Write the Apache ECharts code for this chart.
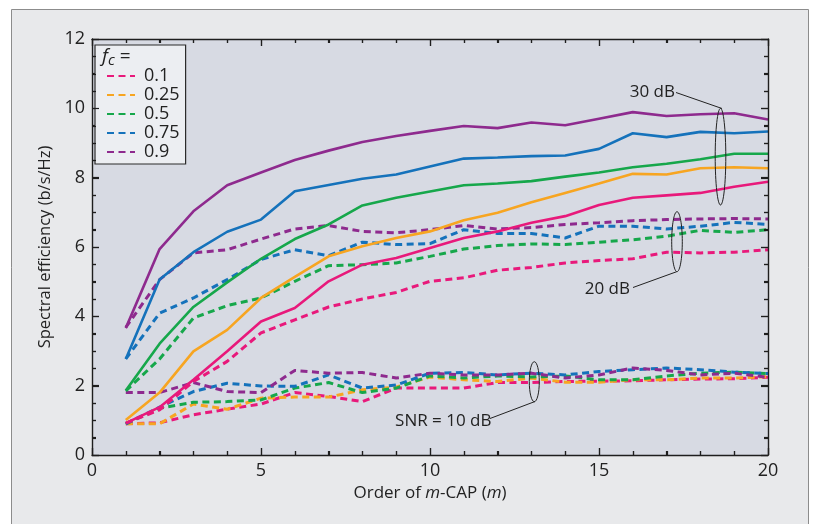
<!DOCTYPE html>
<html>
<head>
<meta charset="utf-8">
<script src="https://cdn.jsdelivr.net/npm/echarts@6/dist/echarts.min.js"></script>
<style>
html,body{margin:0;padding:0;background:#fff;}
#main{width:817px;height:524px;}
</style>
</head>
<body>
<div id="main"></div>
<script>
// ---- data ----
const orders = [1,2,3,4,5,6,7,8,9,10,11,12,13,14,15,16,17,18,19,20];
const fcLabels = ['0.1','0.25','0.5','0.75','0.9'];

// axis tick positions
const xTickVals  = [0,1,2,3,4,5,6,7,8,9,10,11,12,13,14,15,16,17,18,19,20];
const xMajorVals = [0,5,10,15,20];
const yTickVals  = [0,0.5,1,1.5,2,2.5,3,3.5,4,4.5,5,5.5,6,6.5,7,7.5,8,8.5,9,9.5,10,10.5,11,11.5,12];
const yMajorVals = [0,2,4,6,8,10,12];

// SNR = 30 dB (solid)
const snr30_01  = [0.92,1.38,2.17,2.99,3.85,4.24,5.01,5.49,5.68,5.97,6.26,6.45,6.70,6.89,7.21,7.42,7.49,7.56,7.74,7.88];
const snr30_025 = [1.01,1.80,2.99,3.61,4.53,5.14,5.73,6.02,6.26,6.45,6.77,6.99,7.29,7.56,7.83,8.11,8.09,8.27,8.30,8.27];
const snr30_05  = [1.86,3.21,4.27,4.98,5.66,6.23,6.65,7.20,7.42,7.60,7.78,7.83,7.90,8.03,8.15,8.30,8.40,8.53,8.69,8.69];
const snr30_075 = [2.77,5.06,5.85,6.44,6.79,7.61,7.79,7.97,8.09,8.32,8.55,8.58,8.62,8.64,8.83,9.28,9.17,9.32,9.28,9.33];
const snr30_09  = [3.66,5.94,7.03,7.78,8.15,8.51,8.78,9.03,9.20,9.35,9.49,9.43,9.59,9.51,9.70,9.89,9.78,9.83,9.86,9.68];

// SNR = 20 dB (dashed)
const snr20_01  = [0.92,1.30,2.12,2.70,3.52,3.90,4.27,4.50,4.69,5.01,5.11,5.33,5.41,5.54,5.61,5.66,5.85,5.83,5.85,5.92];
const snr20_05  = [1.85,2.77,3.95,4.31,4.53,5.01,5.46,5.49,5.54,5.73,5.94,6.04,6.09,6.07,6.14,6.21,6.31,6.48,6.42,6.50];
const snr20_075 = [2.77,4.09,4.53,5.06,5.64,5.92,5.75,6.14,6.07,6.10,6.50,6.39,6.39,6.26,6.60,6.60,6.52,6.60,6.71,6.65];
const snr20_09  = [3.68,5.06,5.83,5.92,6.23,6.52,6.62,6.45,6.41,6.50,6.62,6.52,6.56,6.65,6.70,6.76,6.79,6.81,6.82,6.81];

// SNR = 10 dB (dashed)
const snr10_01  = [0.90,0.93,1.16,1.32,1.47,1.80,1.69,1.54,1.93,1.93,1.93,2.09,2.09,2.12,2.13,2.14,2.17,2.19,2.20,2.24];
const snr10_025 = [0.90,0.90,1.47,1.32,1.64,1.67,1.67,1.88,1.96,2.25,2.17,2.12,2.22,2.10,2.10,2.17,2.17,2.22,2.22,2.26];
const snr10_05  = [0.90,1.35,1.52,1.54,1.59,1.93,2.09,1.80,1.93,2.28,2.22,2.28,2.25,2.28,2.17,2.17,2.28,2.36,2.39,2.35];
const snr10_075 = [0.90,1.38,1.83,2.07,1.99,1.98,2.31,1.93,2.02,2.36,2.38,2.31,2.36,2.31,2.41,2.46,2.51,2.46,2.39,2.35];
const snr10_09  = [1.80,1.80,2.09,1.83,1.80,2.44,2.36,2.38,2.22,2.36,2.31,2.31,2.36,2.22,2.31,2.51,2.44,2.31,2.36,2.24];

// ---- styling ----
const colors = {'0.1':'#e8197b','0.25':'#f7a521','0.5':'#16a74b','0.75':'#1572bb','0.9':'#8e2a8e'};
const FONT = 'Open Sans';
const TICK_COLOR = '#1e1e1e';

function pairs(vals){ return orders.map((m,i)=>[m, vals[i]]); }
function mk(name, vals, dashed){
  return {
    name: name, type: 'line', data: pairs(vals), symbol: 'none', showSymbol: false,
    silent: true, animation: false,
    lineStyle: dashed ? {color: colors[name], width: 3, type: [7,4.5]} : {color: colors[name], width: 2.6, type: 'solid'},
    itemStyle: {color: colors[name]},
    z: dashed ? 2 : 3
  };
}

const series = [
  mk('0.1', snr10_01, true), mk('0.25', snr10_025, true), mk('0.5', snr10_05, true),
  mk('0.75', snr10_075, true), mk('0.9', snr10_09, true),
  mk('0.1', snr20_01, true), mk('0.5', snr20_05, true), mk('0.75', snr20_075, true), mk('0.9', snr20_09, true),
  mk('0.1', snr30_01, false), mk('0.25', snr30_025, false), mk('0.5', snr30_05, false),
  mk('0.75', snr30_075, false), mk('0.9', snr30_09, false)
];

function axisCommon(){
  return {
    z: 10,
    axisLine: {show: true, onZero: false, lineStyle: {color: TICK_COLOR, width: 1.4}},
    axisTick: {show: true, inside: true, length: 7, lineStyle: {color: TICK_COLOR, width: 1.2}},
    minorTick: {show: true, length: 4, lineStyle: {color: TICK_COLOR, width: 1.2}},
    splitLine: {show: false}
  };
}

const chart = echarts.init(document.getElementById('main'));

const xb = Object.assign(axisCommon(), {
  type: 'value', min: 0, max: 20, interval: 5, position: 'bottom',
  name: '{n|Order of }{i|m}{n|-CAP (}{i|m}{n|)}',
  nameLocation: 'middle', nameGap: 29,
  nameTextStyle: {rich: {n:{fontFamily: FONT, fontSize: 17, color:'#222'}, i:{fontFamily: FONT, fontSize: 17, fontStyle:'italic', color:'#222'}}},
  axisLabel: {fontFamily: FONT, fontSize: 18, color: '#222', margin: 7}
});
xb.minorTick.splitNumber = 5;
const xt = Object.assign(axisCommon(), {type: 'value', min: 0, max: 20, interval: 5, position: 'top', axisLabel: {show: false}});
xt.minorTick.splitNumber = 5;
const yl = Object.assign(axisCommon(), {
  type: 'value', min: 0, max: 12, interval: 2, position: 'left',
  name: 'Spectral efficiency (b/s/Hz)',
  nameLocation: 'middle', nameGap: 36,
  nameTextStyle: {fontFamily: FONT, fontSize: 16.5, color: '#222'},
  axisLabel: {fontFamily: FONT, fontSize: 18, color: '#222', margin: 7}
});
yl.minorTick.splitNumber = 4;
const yr = Object.assign(axisCommon(), {type: 'value', min: 0, max: 12, interval: 2, position: 'right', axisLabel: {show: false}});
yr.minorTick.splitNumber = 4;

const GRID = {left: 92, right: 49, top: 39, bottom: 69};

const baseGraphic = [
  {type:'rect', z:-10, silent:true, shape:{x:11.5, y:9.5, width:797, height:540}, style:{fill:'#e8e9eb', stroke:'#8c8c8c', lineWidth:1}},
  {type:'rect', z:-9, silent:true, shape:{x:GRID.left, y:GRID.top, width:817-GRID.left-GRID.right, height:524-GRID.top-GRID.bottom}, style:{fill:'#d7dae3'}},
  {type:'text', z:100, left:102, top:47, style:{text:'{f|f}{c|c}{e| =}', rich:{
    f:{fontFamily:FONT, fontSize:19, fontStyle:'italic', fill:'#222'},
    c:{fontFamily:FONT, fontSize:15, fontStyle:'italic', fill:'#222', padding:[9,0,0,0]},
    e:{fontFamily:FONT, fontSize:19, fill:'#222'}}}},
  // 30 dB
  {type:'text', z:100, x:675, y:92, style:{text:'30 dB', font:'17px "Open Sans"', fill:'#222', align:'right', verticalAlign:'middle'}},
  {type:'line', z:100, shape:{x1:676, y1:92.5, x2:722, y2:108.5}, style:{stroke:'#222', lineWidth:1}},
  {type:'ellipse', z:100, shape:{cx:720.5, cy:156.7, rx:5.3, ry:48.3}, style:{fill:'none', stroke:'#222', lineWidth:1}},
  // 20 dB
  {type:'text', z:100, x:630, y:289, style:{text:'20 dB', font:'17px "Open Sans"', fill:'#222', align:'right', verticalAlign:'middle'}},
  {type:'line', z:100, shape:{x1:633, y1:287.5, x2:676.7, y2:271.7}, style:{stroke:'#222', lineWidth:1}},
  {type:'ellipse', z:100, shape:{cx:677, cy:241.7, rx:5.3, ry:30}, style:{fill:'none', stroke:'#222', lineWidth:1}},
  // 10 dB
  {type:'text', z:100, x:491.5, y:421, style:{text:'SNR = 10 dB', font:'17px "Open Sans"', fill:'#222', align:'right', verticalAlign:'middle'}},
  {type:'line', z:100, shape:{x1:490, y1:418.5, x2:535, y2:401.5}, style:{stroke:'#222', lineWidth:1}},
  {type:'ellipse', z:100, shape:{cx:534.3, cy:381.7, rx:5, ry:20}, style:{fill:'none', stroke:'#222', lineWidth:1}}
];

const option = {
  animation: false,
  grid: GRID,
  legend: {
    orient: 'vertical', left: 95, top: 45, z: 20,
    padding: [22, 6, 3, 11],
    backgroundColor: '#eceef2', borderColor: '#2b2b2b', borderWidth: 1.2, borderRadius: 0,
    itemWidth: 28, itemHeight: 12, itemGap: 1,
    itemStyle: {opacity: 0},
    data: fcLabels.slice(),
    textStyle: {fontFamily: FONT, fontSize: 18, lineHeight: 18, color: '#222', padding: [0,0,0,4]},
    selectedMode: false
  },
  xAxis: [xb, xt],
  yAxis: [yl, yr],
  series: series,
  graphic: baseGraphic
};
chart.setOption(option);

// Frame tick marks placed through the chart's own axis scales
try {
  const px = v => chart.convertToPixel({xAxisIndex: 0}, v);
  const py = v => chart.convertToPixel({yAxisIndex: 0}, v);
  const B = py(0), T = py(12), L = px(0), R = px(20);
  const tickEls = [];
  const tickStyle = {stroke: TICK_COLOR, lineWidth: 1.2};
  xTickVals.forEach(v => {
    const len = xMajorVals.indexOf(v) >= 0 ? 7 : 4;
    const x = Math.round(px(v)) + 0.5;
    tickEls.push({type:'line', z:50, silent:true, shape:{x1:x, y1:B, x2:x, y2:B - len}, style:tickStyle});
    tickEls.push({type:'line', z:50, silent:true, shape:{x1:x, y1:T, x2:x, y2:T + len}, style:tickStyle});
  });
  yTickVals.forEach(v => {
    const len = yMajorVals.indexOf(v) >= 0 ? 7 : 4;
    const y = Math.round(py(v)) + 0.5;
    tickEls.push({type:'line', z:50, silent:true, shape:{x1:L, y1:y, x2:L + len, y2:y}, style:tickStyle});
    tickEls.push({type:'line', z:50, silent:true, shape:{x1:R, y1:y, x2:R - len, y2:y}, style:tickStyle});
  });
  if (isFinite(B) && isFinite(L)) {
    chart.setOption({graphic: baseGraphic.concat(tickEls)});
  }
} catch (e) {}
</script>
</body>
</html>
